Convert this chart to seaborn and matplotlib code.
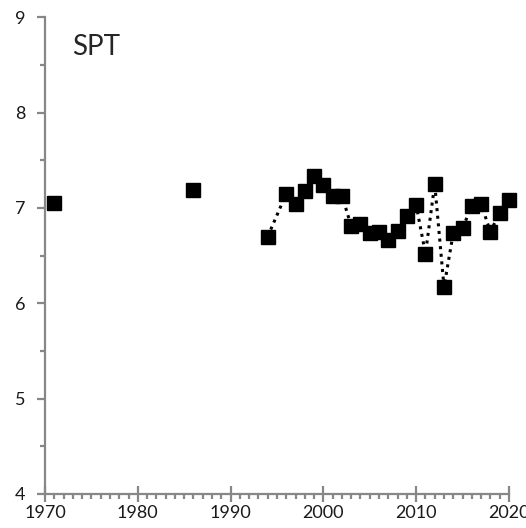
import numpy as np
import pandas as pd
import matplotlib
matplotlib.use("Agg")
import matplotlib.pyplot as plt
import seaborn as sns
from matplotlib.ticker import MultipleLocator

# Early isolated observations (not connected)
early_years = [1971, 1986]
early_values = [7.05, 7.19]

# Continuous record (connected with a dotted line)
years = [1994, 1996, 1997, 1998, 1999, 2000, 2001, 2002, 2003, 2004,
         2005, 2006, 2007, 2008, 2009, 2010, 2011, 2012, 2013, 2014,
         2015, 2016, 2017, 2018, 2019, 2020]
values = [6.70, 7.15, 7.04, 7.18, 7.34, 7.24, 7.12, 7.13, 6.81, 6.83,
          6.74, 6.75, 6.66, 6.76, 6.92, 7.03, 6.52, 7.25, 6.17, 6.74,
          6.79, 7.02, 7.04, 6.75, 6.95, 7.08]

early = pd.DataFrame({"year": early_years, "value": early_values})
recent = pd.DataFrame({"year": years, "value": values})

sns.set_style("white")
plt.rcParams["font.family"] = ["Lato", "DejaVu Sans"]

fig = plt.figure(figsize=(5.26, 5.28), dpi=100)
ax = fig.add_axes([0.0856, 0.0644, 0.882, 0.903])

sns.lineplot(data=recent, x="year", y="value", ax=ax, color="black",
             linestyle=(0, (1, 1.5)), linewidth=2.2, zorder=2)
all_pts = pd.concat([early, recent])
ax.plot(all_pts["year"], all_pts["value"], linestyle="none", marker="s",
        markersize=10, color="black", zorder=3, clip_on=False)

ax.set_xlim(1970, 2020)
ax.set_ylim(4, 9)
ax.xaxis.set_major_locator(MultipleLocator(10))
ax.xaxis.set_minor_locator(MultipleLocator(1))
ax.yaxis.set_major_locator(MultipleLocator(1))
ax.yaxis.set_minor_locator(MultipleLocator(0.5))

spine_col = "#878787"
for side in ["top", "right"]:
    ax.spines[side].set_visible(False)
for side in ["left", "bottom"]:
    ax.spines[side].set_color(spine_col)
    ax.spines[side].set_linewidth(1.6)

ax.tick_params(axis="x", which="major", bottom=True, direction="inout",
               length=12, width=1.6, color=spine_col, labelsize=13, pad=2)
ax.tick_params(axis="x", which="minor", bottom=True, direction="out",
               length=3.5, width=1.6, color=spine_col)
ax.tick_params(axis="y", which="major", left=True, direction="out", length=6,
               width=1.6, color=spine_col, labelsize=13, pad=8)
ax.tick_params(axis="y", which="minor", left=True, direction="out",
               length=3.5, width=1.6, color=spine_col, labelleft=False)

ax.set_xlabel("")
ax.set_ylabel("")
ax.text(0.058, 0.965, "SPT", transform=ax.transAxes, fontsize=20,
        ha="left", va="top")

for lbl in ax.get_xticklabels() + ax.get_yticklabels():
    lbl.set_color("#1a1a1a")

plt.savefig("out.png", dpi=100)
